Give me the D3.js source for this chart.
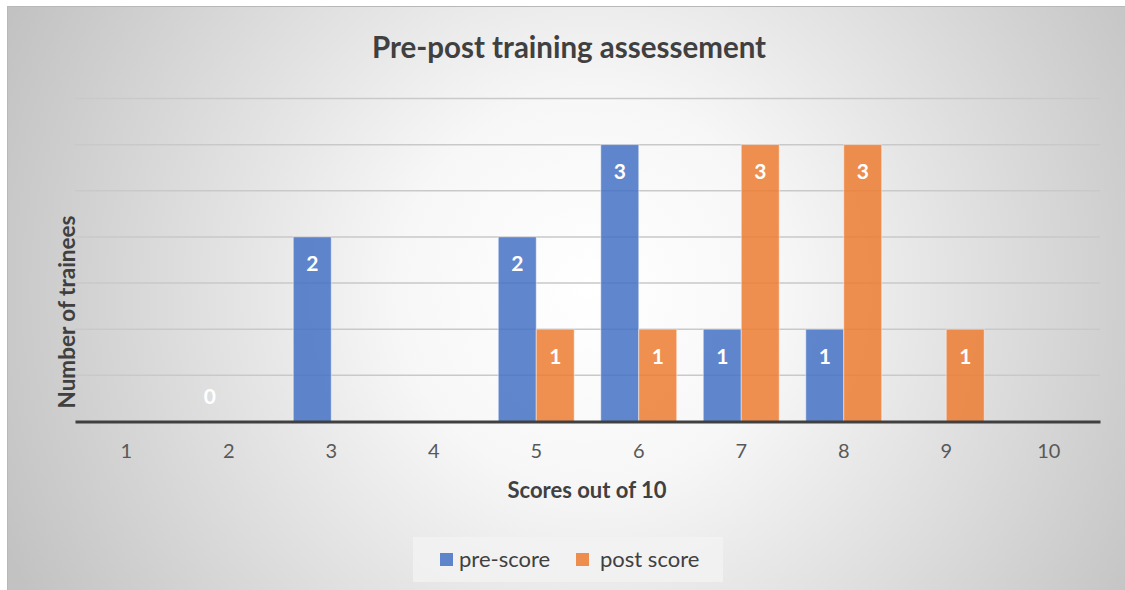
<!DOCTYPE html>
<html>
<head>
<meta charset="utf-8">
<script src="https://cdn.jsdelivr.net/npm/d3@7"></script>
<style>
  html, body { margin: 0; padding: 0; background: #fff; }
  svg { display: block; font-family: Lato, "Open Sans", sans-serif; }
</style>
</head>
<body>
<div id="chart"></div>
<script>
const categories = ['1', '2', '3', '4', '5', '6', '7', '8', '9', '10'];
const series = ['pre-score', 'post score'];
// null = no bar, no label
const preScore = [null, 0, 2, null, 2, 3, 1, 1, null, null];
const postScore = [null, null, null, null, 1, 1, 3, 3, 1, null];
const yTicks = [0, 0.5, 1, 1.5, 2, 2.5, 3, 3.5];

const width = 1125;
const height = 590;
const margin = { top: 98.5, right: 25, bottom: 168.5, left: 75 };
const colors = { 'pre-score': '#4472c4', 'post score': '#ed7d31' };

const rows = categories.map((c, i) => ({
  cat: c,
  values: [
    { key: 'pre-score', value: preScore[i] },
    { key: 'post score', value: postScore[i] },
  ],
}));

const svg = d3.select('#chart').append('svg')
  .attr('width', width)
  .attr('height', height);

// background
const grad = svg.append('defs').append('radialGradient')
  .attr('id', 'bg')
  .attr('gradientUnits', 'userSpaceOnUse')
  .attr('cx', 590).attr('cy', 290).attr('r', 640);
grad.append('stop').attr('offset', '0').attr('stop-color', '#ffffff');
grad.append('stop').attr('offset', '0.3').attr('stop-color', '#f7f7f7');
grad.append('stop').attr('offset', '1').attr('stop-color', '#c2c2c2');

svg.append('rect')
  .attr('x', 7.5).attr('y', 6.5)
  .attr('width', width - 7).attr('height', height - 6)
  .attr('fill', 'url(#bg)')
  .attr('stroke', '#b8b8b8');

const x0 = d3.scaleBand()
  .domain(categories)
  .range([margin.left, width - margin.right]);

const x1 = d3.scaleBand()
  .domain(series)
  .range([0, x0.bandwidth()])
  .paddingOuter(0.35);

const y = d3.scaleLinear()
  .domain([0, 3.5])
  .range([height - margin.bottom, margin.top]);

// gridlines
svg.append('g')
  .selectAll('line')
  .data(yTicks.slice(1))
  .join('line')
  .attr('x1', margin.left)
  .attr('x2', width - margin.right)
  .attr('y1', d => y(d))
  .attr('y2', d => y(d))
  .attr('stroke', '#c9c9c9')
  .attr('stroke-width', 1.5);

// bars
const group = svg.append('g')
  .selectAll('g')
  .data(rows)
  .join('g')
  .attr('transform', d => `translate(${x0(d.cat)},0)`);

group.selectAll('rect')
  .data(d => d.values.filter(v => v.value !== null))
  .join('rect')
  .attr('x', d => x1(d.key))
  .attr('width', x1.bandwidth())
  .attr('y', d => y(d.value))
  .attr('height', d => y(0) - y(d.value))
  .attr('fill', d => colors[d.key])
  .attr('fill-opacity', 0.85)
  .attr('stroke', '#ffffff')
  .attr('stroke-opacity', 0.45)
  .attr('stroke-width', 1);

group.selectAll('text')
  .data(d => d.values.filter(v => v.value !== null))
  .join('text')
  .attr('x', d => x1(d.key) + x1.bandwidth() / 2)
  .attr('y', d => (d.value === 0 ? y(0) - 25 : y(d.value) + 27))
  .attr('dy', '0.35em')
  .attr('text-anchor', 'middle')
  .attr('fill', '#fff')
  .attr('font-weight', 'bold')
  .attr('font-size', 21)
  .text(d => d.value);

// x axis
const xAxis = svg.append('g')
  .attr('transform', `translate(0,${y(0)})`)
  .call(d3.axisBottom(x0).tickSize(0).tickPadding(22));
xAxis.select('.domain').attr('stroke', '#404040').attr('stroke-width', 3);
xAxis.selectAll('text')
  .attr('font-family', 'Lato, "Open Sans", sans-serif')
  .attr('font-size', 20)
  .attr('fill', '#595959');

// titles
svg.append('text')
  .attr('x', 569).attr('y', 58)
  .attr('text-anchor', 'middle')
  .attr('font-size', 29.5)
  .attr('font-weight', 'bold')
  .attr('fill', '#404040')
  .text('Pre-post training assessement');

svg.append('text')
  .attr('x', 587).attr('y', 498)
  .attr('text-anchor', 'middle')
  .attr('font-size', 22)
  .attr('font-weight', 'bold')
  .attr('fill', '#404040')
  .text('Scores out of 10');

svg.append('text')
  .attr('transform', 'translate(75,312) rotate(-90)')
  .attr('text-anchor', 'middle')
  .attr('font-size', 22.5)
  .attr('font-weight', 'bold')
  .attr('fill', '#404040')
  .text('Number of trainees');

// legend
const legend = svg.append('g');
legend.append('rect')
  .attr('x', 413).attr('y', 537)
  .attr('width', 310).attr('height', 45)
  .attr('fill', '#f2f2f2')
  .attr('fill-opacity', 0.8);

const items = [
  { key: 'pre-score', sx: 440, tx: 459 },
  { key: 'post score', sx: 576, tx: 600 },
];
items.forEach(it => {
  legend.append('rect')
    .attr('x', it.sx).attr('y', 553)
    .attr('width', 13).attr('height', 13)
    .attr('fill', colors[it.key])
    .attr('fill-opacity', 0.85);
  legend.append('text')
    .attr('x', it.tx).attr('y', 567)
    .attr('font-size', 22)
    .attr('fill', '#404040')
    .text(it.key);
});
</script>
</body>
</html>
